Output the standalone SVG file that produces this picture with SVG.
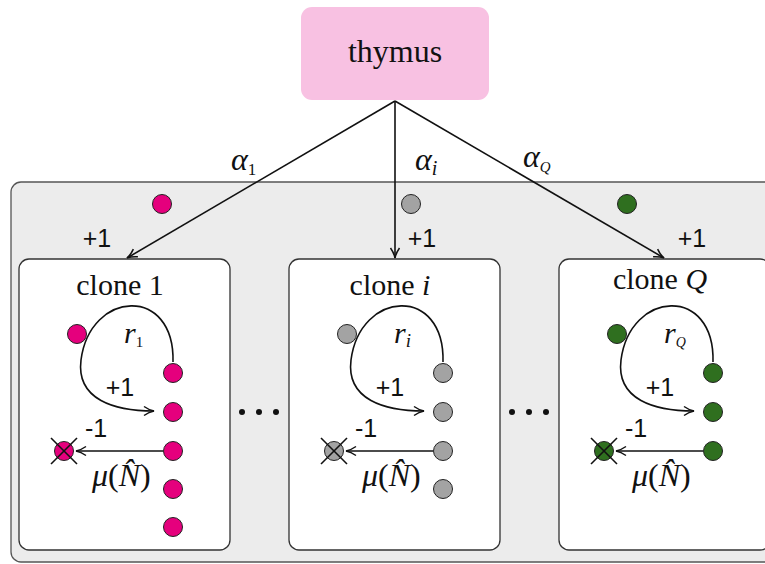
<svg xmlns="http://www.w3.org/2000/svg" width="765" height="564" viewBox="0 0 765 564">
  <defs>
    <style>
      .serif { font-family: "Liberation Serif", "DejaVu Serif", serif; fill: #111; }
      .math { font-family: "Liberation Serif", "DejaVu Serif", serif; font-style: italic; fill: #111; }
      .num { font-family: "Liberation Sans", "DejaVu Sans", sans-serif; fill: #111; font-size: 25px; }
      .edge { fill: none; stroke: #111; stroke-width: 1.6; }
      .box { fill: #ffffff; stroke: #333; stroke-width: 1.3; }
      .dot { stroke: #222; stroke-width: 1; }
      .pink { fill: #e5007d; }
      .grey { fill: #a3a3a3; }
      .green { fill: #2f6f1f; }
      .cross { stroke: #111; stroke-width: 1.6; }
    </style>
    <marker id="arrow" viewBox="0 0 12 12" refX="11" refY="6" markerWidth="12" markerHeight="12" markerUnits="userSpaceOnUse" orient="auto">
      <path d="M1,1.5 Q6,5 11,6 Q6,7 1,10.5" fill="none" stroke="#111" stroke-width="1.5"/>
    </marker>
  </defs>

  <!-- background compartment holding all clones -->
  <rect id="compartment" x="11" y="182" width="800" height="380" rx="10" fill="#ececec" stroke="#555" stroke-width="1.3"/>

  <!-- source node -->
  <g id="thymus">
    <rect x="301" y="7" width="188" height="93" rx="11" fill="#f8c1e2"/>
    <text class="serif" x="395" y="62" font-size="32" text-anchor="middle">thymus</text>
  </g>

  <!-- influx edges from the thymus -->
  <g id="connectors">
    <line class="edge" x1="395" y1="101" x2="127" y2="258" marker-end="url(#arrow)"/>
    <line class="edge" x1="395" y1="101" x2="395" y2="258" marker-end="url(#arrow)"/>
    <line class="edge" x1="395" y1="101" x2="664" y2="258" marker-end="url(#arrow)"/>
    <text class="math" x="231" y="170" font-size="32">α<tspan font-style="normal" font-size="17" dy="5">1</tspan></text>
    <text class="math" x="415" y="170" font-size="32">α<tspan font-size="20" dy="5">i</tspan></text>
    <text class="math" x="523" y="167" font-size="32">α<tspan font-size="15" dy="5">Q</tspan></text>
    <text class="num" x="97" y="247" text-anchor="middle">+1</text>
    <text class="num" x="422" y="247" text-anchor="middle">+1</text>
    <text class="num" x="692" y="247" text-anchor="middle">+1</text>
    <circle class="dot pink" cx="162" cy="204" r="9.5"/>
    <circle class="dot grey" cx="411" cy="204" r="9.5"/>
    <circle class="dot green" cx="627" cy="204" r="9.5"/>
  </g>

  <!-- ellipsis between clones -->
  <g id="ellipsis" fill="#111">
    <circle cx="242" cy="412" r="3"/>
    <circle cx="259" cy="412" r="3"/>
    <circle cx="276" cy="412" r="3"/>
    <circle cx="512" cy="412" r="3"/>
    <circle cx="529" cy="412" r="3"/>
    <circle cx="546" cy="412" r="3"/>
  </g>

  <!-- clone 1 -->
  <g id="clone-1">
    <rect class="box" x="19" y="259" width="211" height="291" rx="10"/>
    <text class="serif" x="120" y="295" font-size="30" text-anchor="middle">clone 1</text>
    <path class="edge" d="M173,362 C175,285 90,290 81,360 C76,400 115,411 154,411" marker-end="url(#arrow)"/>
    <text class="math" x="124" y="343" font-size="30">r<tspan font-style="normal" font-size="15" dy="4">1</tspan></text>
    <text class="num" x="120" y="396" text-anchor="middle">+1</text>
    <line class="edge" x1="163" y1="451" x2="76" y2="451" marker-end="url(#arrow)"/>
    <text class="num" x="96" y="437" text-anchor="middle">-1</text>
    <text class="math" x="92" y="486" font-size="32">μ<tspan font-style="normal">(</tspan>N̂<tspan font-style="normal">)</tspan></text>
    <circle class="dot pink" cx="77" cy="334" r="9.5"/>
    <circle class="dot pink" cx="173" cy="373" r="9.5"/>
    <circle class="dot pink" cx="173" cy="412" r="9.5"/>
    <circle class="dot pink" cx="173" cy="451" r="9.5"/>
    <circle class="dot pink" cx="173" cy="489" r="9.5"/>
    <circle class="dot pink" cx="173" cy="527" r="9.5"/>
    <circle class="dot pink" cx="64" cy="451" r="9.5"/>
    <line class="cross" x1="51" y1="438" x2="77" y2="464"/>
    <line class="cross" x1="77" y1="438" x2="51" y2="464"/>
  </g>

  <!-- clone i -->
  <g id="clone-i" transform="translate(270,0)">
    <rect class="box" x="19" y="259" width="211" height="291" rx="10"/>
    <text class="serif" x="120" y="295" font-size="30" text-anchor="middle">clone <tspan font-style="italic">i</tspan></text>
    <path class="edge" d="M173,362 C175,285 90,290 81,360 C76,400 115,411 154,411" marker-end="url(#arrow)"/>
    <text class="math" x="124" y="343" font-size="30">r<tspan font-size="19" dy="4">i</tspan></text>
    <text class="num" x="120" y="396" text-anchor="middle">+1</text>
    <line class="edge" x1="163" y1="451" x2="76" y2="451" marker-end="url(#arrow)"/>
    <text class="num" x="96" y="437" text-anchor="middle">-1</text>
    <text class="math" x="92" y="486" font-size="32">μ<tspan font-style="normal">(</tspan>N̂<tspan font-style="normal">)</tspan></text>
    <circle class="dot grey" cx="77" cy="334" r="9.5"/>
    <circle class="dot grey" cx="173" cy="373" r="9.5"/>
    <circle class="dot grey" cx="173" cy="412" r="9.5"/>
    <circle class="dot grey" cx="173" cy="451" r="9.5"/>
    <circle class="dot grey" cx="173" cy="489" r="9.5"/>
    <circle class="dot grey" cx="64" cy="451" r="9.5"/>
    <line class="cross" x1="51" y1="438" x2="77" y2="464"/>
    <line class="cross" x1="77" y1="438" x2="51" y2="464"/>
  </g>

  <!-- clone Q -->
  <g id="clone-Q" transform="translate(540,0)">
    <rect class="box" x="19" y="259" width="211" height="291" rx="10"/>
    <text class="serif" x="120" y="289" font-size="30" text-anchor="middle">clone <tspan font-style="italic">Q</tspan></text>
    <path class="edge" d="M173,362 C175,285 90,290 81,360 C76,400 115,411 154,411" marker-end="url(#arrow)"/>
    <text class="math" x="124" y="343" font-size="30">r<tspan font-size="14" dy="4">Q</tspan></text>
    <text class="num" x="120" y="396" text-anchor="middle">+1</text>
    <line class="edge" x1="163" y1="451" x2="76" y2="451" marker-end="url(#arrow)"/>
    <text class="num" x="96" y="437" text-anchor="middle">-1</text>
    <text class="math" x="92" y="486" font-size="32">μ<tspan font-style="normal">(</tspan>N̂<tspan font-style="normal">)</tspan></text>
    <circle class="dot green" cx="77" cy="334" r="9.5"/>
    <circle class="dot green" cx="173" cy="373" r="9.5"/>
    <circle class="dot green" cx="173" cy="412" r="9.5"/>
    <circle class="dot green" cx="173" cy="451" r="9.5"/>
    <circle class="dot green" cx="64" cy="451" r="9.5"/>
    <line class="cross" x1="51" y1="438" x2="77" y2="464"/>
    <line class="cross" x1="77" y1="438" x2="51" y2="464"/>
  </g>
</svg>
